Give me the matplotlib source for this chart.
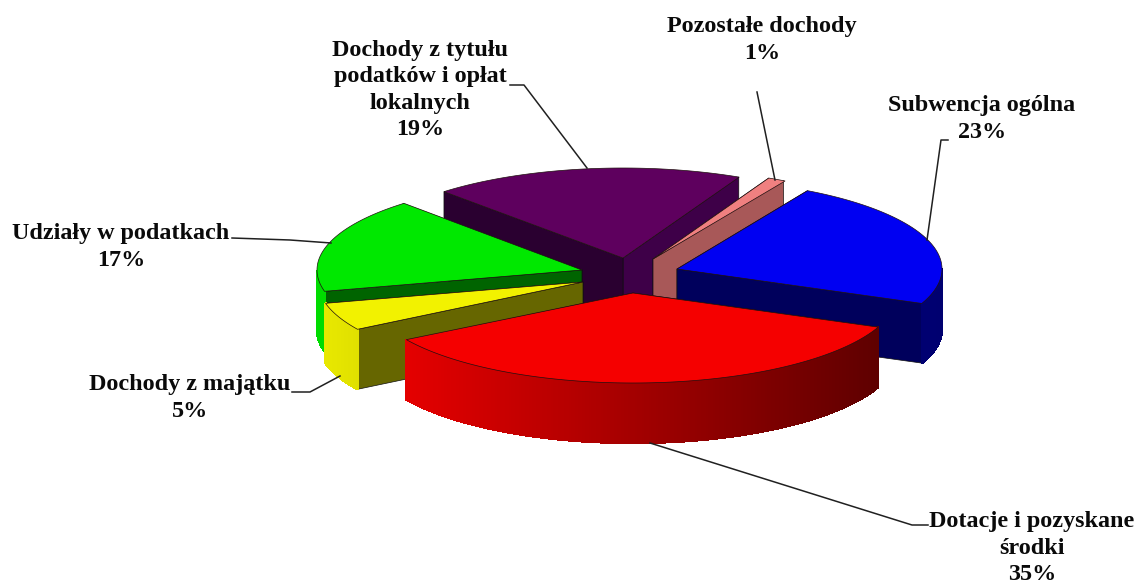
import numpy as np
from matplotlib import pyplot as plt
from matplotlib.colors import to_rgb
from matplotlib.patches import Polygon

# Income shares, clockwise from the blue slice
labels = ['Subwencja ogólna', 'Dotacje i pozyskane\nśrodki', 'Dochody z majątku',
          'Udziały w podatkach', 'Dochody z tytułu\npodatków i opłat\nlokalnych',
          'Pozostałe dochody']
shares = [23, 35, 5, 17, 19, 1]

top_colors = ['#0000f2', '#f50000', '#f2f200', '#00e800', '#5e005e', '#f08080']
wall_left = ['#00007a', '#e40000', '#e8e800', '#00dc00', '#40003f', '#a85858']
wall_right = ['#000070', '#5e0000', '#e0e000', '#00dc00', '#40003f', '#a85858']
start_face = ['#00005c', '#600000', '#666600', '#006400', '#2a0030', '#a85858']
end_face = ['#00005c', '#600000', '#666600', '#006400', '#3e0048', '#a85858']

# 3D look: ellipse radii, height and where each exploded slice has its tip
rx, ry, depth = 265, 90, 60
first_angle = 29.5
tips = [(677, 269), (633, 293), (583, 282), (582, 270), (623, 258), (653, 259)]
draw_order = [4, 5, 3, 0, 2, 1]

label_pos = [(982, 119), (1032, 548), (190, 398), (121, 247), (420, 90), (762, 40)]
leaders = [[(948, 140), (941, 140), (927, 240)],
           [(650, 443), (912, 525), (928, 525)],
           [(292, 392), (310, 392), (340, 376)],
           [(232, 238), (290, 240), (331, 243)],
           [(510, 85), (524, 85), (587, 168)],
           [(757, 92), (775, 180)]]


def rim(tip, angle):
    t = np.radians(angle)
    return tip[0] + rx * np.sin(t), tip[1] - ry * np.cos(t)


def draw_slice(ax, i, a1, a2):
    tip = tips[i]
    # cut faces, the one further back first
    faces = [(a1, start_face[i]), (a2, end_face[i])]
    faces.sort(key=lambda f: rim(tip, f[0])[1])
    for angle, color in faces:
        x, y = rim(tip, angle)
        pts = [tip, (x, y), (x, y + depth), (tip[0], tip[1] + depth)]
        ax.add_patch(Polygon(pts, fc=color, ec='#101010', lw=0.5))

    # outer wall, shaded from left to right
    steps = np.arange(a1, a2 + 0.5, 0.5)
    c1, c2 = np.array(to_rgb(wall_left[i])), np.array(to_rgb(wall_right[i]))
    xs = [rim(tip, a)[0] for a in steps]
    for a, b in zip(steps[:-1], steps[1:]):
        if np.cos(np.radians((a + b) / 2)) > 0:
            continue
        xa, ya = rim(tip, a)
        xb, yb = rim(tip, b)
        f = ((xa + xb) / 2 - min(xs)) / max(max(xs) - min(xs), 1)
        color = c1 + (c2 - c1) * f
        ax.add_patch(Polygon([(xa, ya), (xb, yb), (xb, yb + depth), (xa, ya + depth)],
                             fc=color, ec=color, lw=1.0, antialiased=False))

    # top of the slice
    pts = [tip] + [rim(tip, a) for a in steps]
    ax.add_patch(Polygon(pts, fc=top_colors[i], ec='#201010', lw=0.5))


fig = plt.figure(figsize=(11.37, 5.86), dpi=100)
ax = fig.add_axes([0, 0, 1, 1])
ax.set_xlim(0, 1137)
ax.set_ylim(586, 0)
ax.axis('off')

edges = first_angle + np.cumsum([0] + shares) * 3.6
for i in draw_order:
    draw_slice(ax, i, edges[i], edges[i + 1])

for line in leaders:
    ax.plot(*zip(*line), color='#202020', lw=1.1, zorder=5)

for label, share, pos in zip(labels, shares, label_pos):
    ax.text(pos[0], pos[1], f'{label}\n{share}%', ha='center', va='center',
            family='Liberation Serif', weight='bold', fontsize=17.4, linespacing=1.35,
            color='#0a0a0a', zorder=6)

plt.savefig('out.png', dpi=100)
